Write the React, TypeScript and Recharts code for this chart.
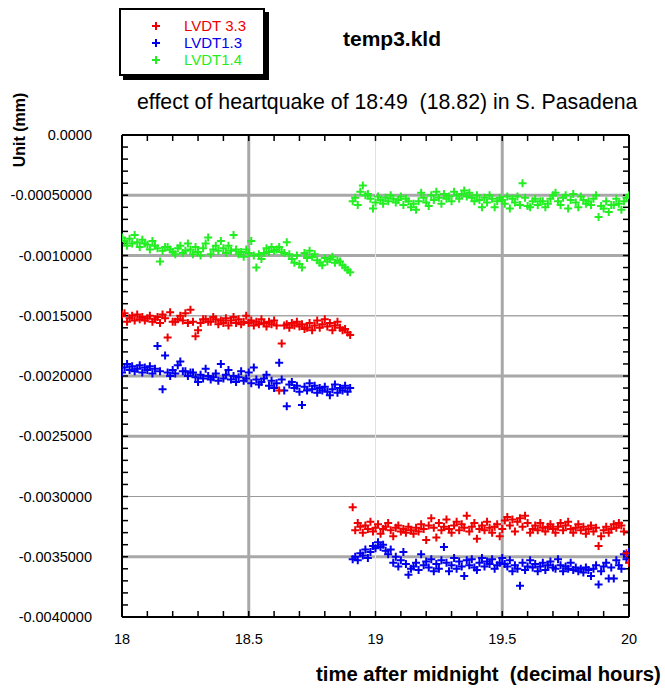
import { ReferenceLine, Scatter, ScatterChart, XAxis, YAxis } from "recharts";

// readings in micrometres (1e-3 mm), one every 0.01 h
const SAMPLE_STEP = 0.01;
const BEFORE_START = 18.0;
const AFTER_START = 18.91;
const UM_TO_MM = 0.001;

const lvdt33Before = [
  -1.49, -1.48, -1.55, -1.52, -1.5, -1.54, -1.49, -1.53, -1.51, -1.54,
  -1.52, -1.5, -1.55, -1.53, -1.51, -1.56, -1.49, -1.52, -1.68, -1.47,
  -1.55, -1.55, -1.53, -1.5, -1.54, -1.48, -1.56, -1.45, -1.55, -1.67,
  -1.62, -1.56, -1.53, -1.53, -1.55, -1.55, -1.51, -1.53, -1.57, -1.54,
  -1.56, -1.52, -1.58, -1.54, -1.51, -1.56, -1.53, -1.57, -1.55, -1.5,
  -1.56, -1.54, -1.58, -1.55, -1.57, -1.53, -1.56, -1.59, -1.55, -1.57,
  -1.54, -1.58, -2.12, -1.73, -1.58, -1.57, -1.6, -1.56, -1.58, -1.55,
  -1.59, -1.57, -1.61, -1.6, -1.56, -1.62, -1.58, -1.54, -1.6, -1.57,
  -1.53, -1.59, -1.56, -1.62, -1.58, -1.55, -1.6, -1.62, -1.61, -1.64,
  -1.66,
];
const lvdt33After = [
  -3.09, -3.28, -3.22, -3.25, -3.3, -3.24, -3.27, -3.21, -3.29, -3.26,
  -3.23, -3.31, -3.27, -3.25, -3.22, -3.28, -3.33, -3.26, -3.24, -3.29,
  -3.27, -3.3, -3.25, -3.28, -3.31, -3.26, -3.29, -3.23, -3.27, -3.36,
  -3.24, -3.18, -3.26, -3.34, -3.22, -3.28, -3.25, -3.19, -3.27, -3.3,
  -3.24, -3.21, -3.28, -3.23, -3.26, -3.16, -3.29, -3.25, -3.22, -3.35,
  -3.27, -3.24, -3.28, -3.21, -3.26, -3.3, -3.25, -3.23, -3.33, -3.27,
  -3.2, -3.17, -3.24, -3.19, -3.29, -3.21, -3.18, -3.25, -3.16, -3.22,
  -3.3, -3.27, -3.24, -3.28, -3.22, -3.26, -3.29, -3.25, -3.23, -3.27,
  -3.3, -3.25, -3.22, -3.28, -3.24, -3.21, -3.27, -3.3, -3.26, -3.23,
  -3.28, -3.25, -3.31, -3.27, -3.24, -3.29, -3.26, -3.41, -3.33, -3.28,
  -3.25, -3.3, -3.27, -3.23, -3.26, -3.22, -3.24, -3.29, -3.47, -3.55,
];

const lvdt13Before = [
  -1.97, -1.93, -1.9, -1.95, -1.92, -1.96, -1.94, -1.91, -1.97, -1.93,
  -1.95, -1.92, -1.98, -1.94, -1.75, -1.96, -2.11, -1.83, -1.97, -2.0,
  -1.95, -1.98, -1.91, -1.88, -1.96, -1.96, -2.0, -1.97, -1.97, -2.01,
  -2.05, -1.99, -2.02, -1.94, -2.0, -2.03, -2.01, -1.98, -2.04, -1.9,
  -2.02, -1.99, -1.95, -2.03, -2.0, -2.05, -2.01, -1.96, -2.04, -2.02,
  -1.97, -2.06, -1.93, -2.03, -2.07, -2.05, -2.02, -1.99, -2.08, -2.04,
  -2.1, -2.06, -1.89, -2.03, -2.12, -2.25, -2.07, -2.05, -2.1, -2.08,
  -2.13, -2.24, -2.09, -2.12, -2.06, -2.11, -2.08, -2.14, -2.1, -2.12,
  -2.09, -2.13, -2.16, -2.11, -2.07, -2.14, -2.1, -2.12, -2.08, -2.13,
  -2.1,
];
const lvdt13After = [
  -3.52, -3.5, -3.53, -3.47, -3.49, -3.44, -3.51, -3.46, -3.41, -3.43,
  -3.38, -3.42, -3.4, -3.45, -3.48, -3.44, -3.55, -3.5, -3.58, -3.53,
  -3.46, -3.56, -3.65, -3.6, -3.58, -3.55, -3.61, -3.48, -3.57, -3.54,
  -3.59, -3.52, -3.62, -3.56, -3.6, -3.53, -3.42, -3.55, -3.62, -3.57,
  -3.51, -3.6, -3.54, -3.58, -3.66, -3.53, -3.57, -3.52, -3.59, -3.61,
  -3.55, -3.51, -3.58, -3.54, -3.56, -3.52, -3.6, -3.57, -3.55, -3.51,
  -3.56, -3.58, -3.53, -3.62, -3.57, -3.6, -3.74, -3.55, -3.61, -3.58,
  -3.53, -3.59, -3.56, -3.62, -3.58, -3.55, -3.61, -3.57, -3.54, -3.59,
  -3.6, -3.52, -3.57, -3.62, -3.58, -3.6, -3.55, -3.61, -3.59, -3.62,
  -3.6, -3.63, -3.59, -3.61, -3.66, -3.6, -3.57, -3.73, -3.62, -3.58,
  -3.55, -3.68, -3.59, -3.68, -3.53, -3.57, -3.6, -3.48, -3.52, -3.46,
];

const lvdt14Before = [
  -0.85, -0.88, -0.92, -0.86, -0.9, -0.83, -0.89, -0.93, -0.87, -0.9,
  -0.91, -0.95, -0.88, -0.92, -0.94, -1.05, -0.96, -0.93, -0.93, -0.95,
  -0.97, -0.99, -0.94, -0.92, -0.98, -0.96, -0.9, -0.95, -0.99, -0.93,
  -0.97, -1.0, -0.94, -0.9, -0.85, -0.99, -0.95, -0.92, -0.96, -0.88,
  -0.94, -0.98, -0.92, -0.96, -0.83, -0.95, -0.99, -0.97, -1.01, -0.95,
  -0.98, -0.88, -1.0, -1.1, -0.99, -1.03, -0.98, -0.94, -0.97, -0.93,
  -0.96, -0.95, -0.93, -0.97, -0.98, -0.89, -0.99, -1.03, -1.06, -1.0,
  -1.07, -1.1, -0.98, -1.02, -0.96, -1.01, -0.99, -1.04, -1.06, -1.08,
  -1.02, -1.05, -1.03, -1.01, -1.06, -1.04, -1.05, -1.08, -1.1, -1.12,
  -1.14,
];
const lvdt14After = [
  -0.55, -0.52, -0.58, -0.47, -0.42, -0.5, -0.49, -0.53, -0.61, -0.56,
  -0.51, -0.54, -0.57, -0.52, -0.55, -0.5, -0.53, -0.56, -0.54, -0.51,
  -0.58, -0.53, -0.55, -0.6, -0.57, -0.62, -0.55, -0.48, -0.52, -0.56,
  -0.59, -0.5, -0.54, -0.47, -0.52, -0.57, -0.49, -0.53, -0.51, -0.55,
  -0.47, -0.5, -0.53, -0.49, -0.46, -0.51, -0.48, -0.52, -0.55, -0.5,
  -0.54, -0.6, -0.52, -0.56, -0.5, -0.53, -0.6, -0.55, -0.52, -0.54,
  -0.57, -0.51, -0.61, -0.53, -0.56, -0.51, -0.58, -0.4, -0.52, -0.59,
  -0.6, -0.55, -0.53, -0.58, -0.55, -0.55, -0.6, -0.57, -0.53, -0.5,
  -0.48, -0.55, -0.58, -0.52, -0.5, -0.61, -0.54, -0.49, -0.56, -0.6,
  -0.51, -0.54, -0.57, -0.55, -0.58, -0.53, -0.5, -0.68, -0.59, -0.61,
  -0.55, -0.64, -0.58, -0.58, -0.53, -0.57, -0.62, -0.55, -0.52, -0.5,
];

const xTicks = [18, 18.5, 19, 19.5, 20];
const xTickLabels = ["18", "18.5", "19", "19.5", "20"];
const yTicks = [0, -0.0005, -0.001, -0.0015, -0.002, -0.0025, -0.003, -0.0035, -0.004];
const yTickLabels = [
  "0.0000",
  "-0.00050000",
  "-0.0010000",
  "-0.0015000",
  "-0.0020000",
  "-0.0025000",
  "-0.0030000",
  "-0.0035000",
  "-0.0040000",
];
const xMinorTicks = Array.from({ length: 21 }, (_, i) => Math.round((18 + i * 0.1) * 10) / 10);
const yMinorTicks = Array.from({ length: 41 }, (_, i) => -Math.round(i) / 10000);

const series = [
  { name: "LVDT1.4", color: "#22ee22", before: lvdt14Before, after: lvdt14After },
  { name: "LVDT1.3", color: "#0000ee", before: lvdt13Before, after: lvdt13After },
  { name: "LVDT 3.3", color: "#ee0000", before: lvdt33Before, after: lvdt33After },
];
const legendOrder = ["LVDT 3.3", "LVDT1.3", "LVDT1.4"];

const toPoints = (vals: number[], start: number) =>
  vals.map((v, i) => ({
    t: Math.round((start + i * SAMPLE_STEP) * 1000) / 1000,
    v: v * UM_TO_MM,
  }));

const FONT = '"Liberation Sans", Arial, sans-serif';

const Plus = (props: any) => {
  const { cx, cy, fill } = props;
  if (cx == null || cy == null) return null;
  return <path d={`M${cx - 4},${cy}h8M${cx},${cy - 4}v8`} stroke={fill} strokeWidth={2} fill="none" />;
};

const blank = () => "";

export default function App() {
  const axisLine = { stroke: "#000", strokeWidth: 2 };
  const minorTick = { stroke: "#000", strokeWidth: 1.5 };
  return (
    <div style={{ position: "absolute", left: 0, top: 0, width: 665, height: 691, background: "#fff", fontFamily: FONT }}>
      <ScatterChart width={665} height={691} margin={{ top: 135, right: 36, bottom: 44, left: 12 }}>
        <XAxis
          xAxisId="main"
          type="number"
          dataKey="t"
          domain={[18, 20]}
          ticks={xTicks}
          allowDataOverflow
          height={30}
          tickSize={0}
          tickMargin={17}
          axisLine={axisLine}
          tick={{ fill: "#000", fontSize: 14.5, fontFamily: FONT }}
          tickFormatter={(v: number) => xTickLabels[xTicks.findIndex((t) => Math.abs(t - v) < 1e-9)] ?? ""}
        />
        <XAxis
          xAxisId="minorBottom"
          type="number"
          dataKey="t"
          domain={[18, 20]}
          ticks={xMinorTicks}
          allowDataOverflow
          mirror
          axisLine={false}
          tickSize={6}
          tickLine={minorTick}
          tickFormatter={blank}
        />
        <XAxis
          xAxisId="minorTop"
          orientation="top"
          type="number"
          dataKey="t"
          domain={[18, 20]}
          ticks={xMinorTicks}
          allowDataOverflow
          mirror
          axisLine={axisLine}
          tickSize={6}
          tickLine={minorTick}
          tickFormatter={blank}
        />
        <YAxis
          yAxisId="main"
          type="number"
          dataKey="v"
          domain={[-0.004, 0]}
          ticks={yTicks}
          allowDataOverflow
          width={110}
          tickSize={0}
          tickMargin={30}
          axisLine={axisLine}
          tick={{ fill: "#000", fontSize: 14.5, fontFamily: FONT }}
          tickFormatter={(v: number) => yTickLabels[yTicks.findIndex((t) => Math.abs(t - v) < 1e-12)] ?? ""}
        />
        <YAxis
          yAxisId="minorLeft"
          type="number"
          dataKey="v"
          domain={[-0.004, 0]}
          ticks={yMinorTicks}
          allowDataOverflow
          mirror
          axisLine={false}
          tickSize={6}
          tickLine={minorTick}
          tickFormatter={blank}
        />
        <YAxis
          yAxisId="minorRight"
          orientation="right"
          type="number"
          dataKey="v"
          domain={[-0.004, 0]}
          ticks={yMinorTicks}
          allowDataOverflow
          mirror
          axisLine={axisLine}
          tickSize={6}
          tickLine={minorTick}
          tickFormatter={blank}
        />

        <ReferenceLine xAxisId="main" yAxisId="main" y={-0.0005} stroke="#a8a8a8" strokeWidth={3} />
        <ReferenceLine xAxisId="main" yAxisId="main" y={-0.001} stroke="#a8a8a8" strokeWidth={3} />
        <ReferenceLine xAxisId="main" yAxisId="main" y={-0.0015} stroke="#a8a8a8" strokeWidth={1.5} />
        <ReferenceLine xAxisId="main" yAxisId="main" y={-0.002} stroke="#a8a8a8" strokeWidth={3} />
        <ReferenceLine xAxisId="main" yAxisId="main" y={-0.0025} stroke="#a8a8a8" strokeWidth={3} />
        <ReferenceLine xAxisId="main" yAxisId="main" y={-0.003} stroke="#999" strokeWidth={1.2} />
        <ReferenceLine xAxisId="main" yAxisId="main" y={-0.0035} stroke="#a8a8a8" strokeWidth={3} />
        <ReferenceLine xAxisId="main" yAxisId="main" x={18.5} stroke="#a8a8a8" strokeWidth={3} />
        <ReferenceLine xAxisId="main" yAxisId="main" x={19} stroke="#e2e2e2" strokeWidth={1} />
        <ReferenceLine xAxisId="main" yAxisId="main" x={19.5} stroke="#a8a8a8" strokeWidth={3} />

        {series.map((s) => (
          <Scatter
            key={s.name + "-before"}
            xAxisId="main"
            yAxisId="main"
            name={s.name}
            data={toPoints(s.before, BEFORE_START)}
            fill={s.color}
            shape={Plus}
            isAnimationActive={false}
          />
        ))}
        {series.map((s) => (
          <Scatter
            key={s.name + "-after"}
            xAxisId="main"
            yAxisId="main"
            name={s.name}
            data={toPoints(s.after, AFTER_START)}
            fill={s.color}
            shape={Plus}
            isAnimationActive={false}
          />
        ))}
      </ScatterChart>

      {/* legend box with drop shadow */}
      <div
        style={{
          position: "absolute",
          left: 119,
          top: 8,
          width: 142,
          height: 64,
          border: "2px solid #000",
          boxShadow: "4px 4px 0 #000",
          background: "#fff",
        }}
      >
        {legendOrder.map((name, i) => {
          const s = series.find((x) => x.name === name)!;
          return (
            <div key={name} style={{ position: "absolute", left: 0, top: 7 + i * 17, height: 17, width: 140 }}>
              <svg width={10} height={10} style={{ position: "absolute", left: 30, top: 4 }}>
                <path d="M1,5h8M5,1v8" stroke={s.color} strokeWidth={2} />
              </svg>
              <span
                style={{
                  position: "absolute",
                  left: 63,
                  top: 0,
                  fontSize: 15,
                  lineHeight: "17px",
                  color: s.color,
                  whiteSpace: "nowrap",
                }}
              >
                {name}
              </span>
            </div>
          );
        })}
      </div>

      <div style={{ position: "absolute", left: 343, top: 27, fontSize: 21, fontWeight: "bold", lineHeight: "24px" }}>
        temp3.kld
      </div>
      <div
        style={{ position: "absolute", left: 137, top: 90, fontSize: 21.3, lineHeight: "24px", whiteSpace: "pre" }}
      >
        {"effect of heartquake of 18:49  (18.82) in S. Pasadena"}
      </div>
      <div
        style={{
          position: "absolute",
          left: 20,
          top: 130,
          fontSize: 16,
          fontWeight: "bold",
          whiteSpace: "nowrap",
          transform: "translate(-50%, -50%) rotate(-90deg)",
          lineHeight: "18px",
        }}
      >
        Unit (mm)
      </div>
      <div
        style={{
          position: "absolute",
          left: 316,
          top: 662,
          fontSize: 20.3,
          fontWeight: "bold",
          whiteSpace: "pre",
          lineHeight: "24px",
        }}
      >
        {"time after midnight  (decimal hours)"}
      </div>
    </div>
  );
}
